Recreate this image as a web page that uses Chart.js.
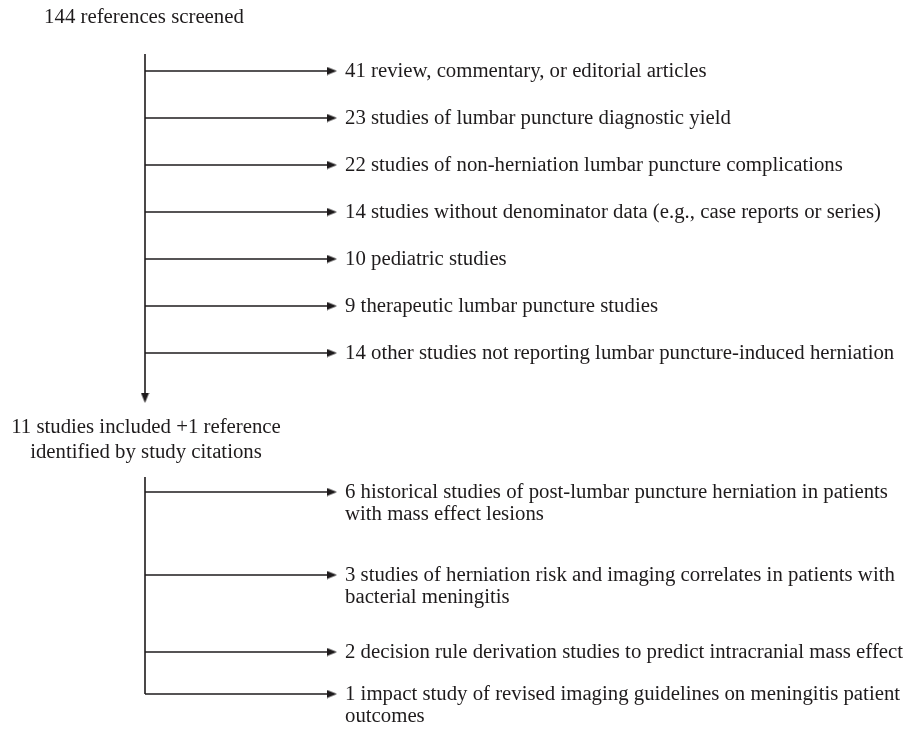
<!DOCTYPE html>
<html>
<head>
<meta charset="utf-8">
<script src="https://cdn.jsdelivr.net/npm/chart.js@4"></script>
<style>
  html, body { margin: 0; padding: 0; background: #fff; }
  #wrap { width: 906px; height: 733px; }
</style>
</head>
<body>
<div id="wrap"><canvas id="flow" width="906" height="733"></canvas></div>
<script>
// Study selection data
const screenedCount = 144;
const includedCount = 11;
const citationCount = 1;

const excludedCounts = [41, 23, 22, 14, 10, 9, 14];
const excludedReasons = [
  'review, commentary, or editorial articles',
  'studies of lumbar puncture diagnostic yield',
  'studies of non-herniation lumbar puncture complications',
  'studies without denominator data (e.g., case reports or series)',
  'pediatric studies',
  'therapeutic lumbar puncture studies',
  'other studies not reporting lumbar puncture-induced herniation'
];

const includedCounts = [6, 3, 2, 1];
const includedTopics = [
  ['historical studies of post-lumbar puncture herniation in patients', 'with mass effect lesions'],
  ['studies of herniation risk and imaging correlates in patients with', 'bacterial meningitis'],
  ['decision rule derivation studies to predict intracranial mass effect'],
  ['impact study of revised imaging guidelines on meningitis patient', 'outcomes']
];

// Layout (pixel space of the chart's linear axes)
const trunkX = 145;
const arrowTipX = 337;
const textX = 345;
const topRowY = 71;
const rowStep = 47;
const lowerRows = [492, 575, 652, 694];
const lineGap = 22;
const ink = '#1e1b1c';
const font = '20.8px "Liberation Serif", "Times New Roman", serif';

// arrowhead image, pointing right
function makeArrowHead() {
  const c = document.createElement('canvas');
  c.width = 10; c.height = 9;
  const g = c.getContext('2d');
  g.fillStyle = ink;
  g.beginPath();
  g.moveTo(0, 0.5);
  g.lineTo(10, 4.5);
  g.lineTo(0, 8.5);
  g.closePath();
  g.fill();
  return c;
}
const head = makeArrowHead();

const upperYs = excludedCounts.map((_, i) => topRowY + i * rowStep);

function segment(x1, y1, x2, y2) {
  return {
    type: 'line',
    data: [{ x: x1, y: y1 }, { x: x2, y: y2 }],
    borderColor: ink,
    borderWidth: 1.6,
    pointRadius: 0,
    fill: false,
    clip: false
  };
}

const datasets = [];
// first trunk with down arrow
datasets.push(segment(trunkX, 54, trunkX, 396));
upperYs.forEach(y => datasets.push(segment(trunkX, y, arrowTipX - 5, y)));
// second trunk
datasets.push(segment(trunkX, 477, trunkX, lowerRows[lowerRows.length - 1]));
lowerRows.forEach(y => datasets.push(segment(trunkX, y, arrowTipX - 5, y)));

// arrowheads as points
const heads = upperYs.concat(lowerRows).map(y => ({ x: arrowTipX - 5, y: y }));
const headRot = heads.map(() => 0);
heads.push({ x: trunkX, y: 398 });
headRot.push(90);
datasets.push({
  type: 'scatter',
  data: heads,
  pointStyle: head,
  rotation: headRot,
  pointRadius: 5,
  clip: false
});

const textPlugin = {
  id: 'flowText',
  afterDatasetsDraw(chart) {
    const ctx = chart.ctx;
    const sx = chart.scales.x, sy = chart.scales.y;
    ctx.save();
    ctx.font = font;
    ctx.fillStyle = ink;
    ctx.textBaseline = 'middle';

    ctx.textAlign = 'center';
    ctx.fillText(screenedCount + ' references screened', sx.getPixelForValue(144), sy.getPixelForValue(18));
    ctx.fillText(includedCount + ' studies included +' + citationCount + ' reference', sx.getPixelForValue(146), sy.getPixelForValue(428));
    ctx.fillText('identified by study citations', sx.getPixelForValue(146), sy.getPixelForValue(453));

    ctx.textAlign = 'left';
    excludedCounts.forEach((n, i) => {
      ctx.fillText(n + ' ' + excludedReasons[i], sx.getPixelForValue(textX), sy.getPixelForValue(upperYs[i] + 1));
    });
    includedCounts.forEach((n, i) => {
      includedTopics[i].forEach((line, j) => {
        const t = j === 0 ? n + ' ' + line : line;
        ctx.fillText(t, sx.getPixelForValue(textX), sy.getPixelForValue(lowerRows[i] + 1 + j * lineGap));
      });
    });
    ctx.restore();
  }
};

new Chart(document.getElementById('flow').getContext('2d'), {
  type: 'scatter',
  data: { datasets: datasets },
  options: {
    responsive: false,
    animation: false,
    layout: { padding: 0, autoPadding: false },
    plugins: { legend: { display: false }, tooltip: { enabled: false } },
    scales: {
      x: { type: 'linear', min: 0, max: 906, display: false },
      y: { type: 'linear', min: 0, max: 733, reverse: true, display: false }
    }
  },
  plugins: [textPlugin]
});
</script>
</body>
</html>
